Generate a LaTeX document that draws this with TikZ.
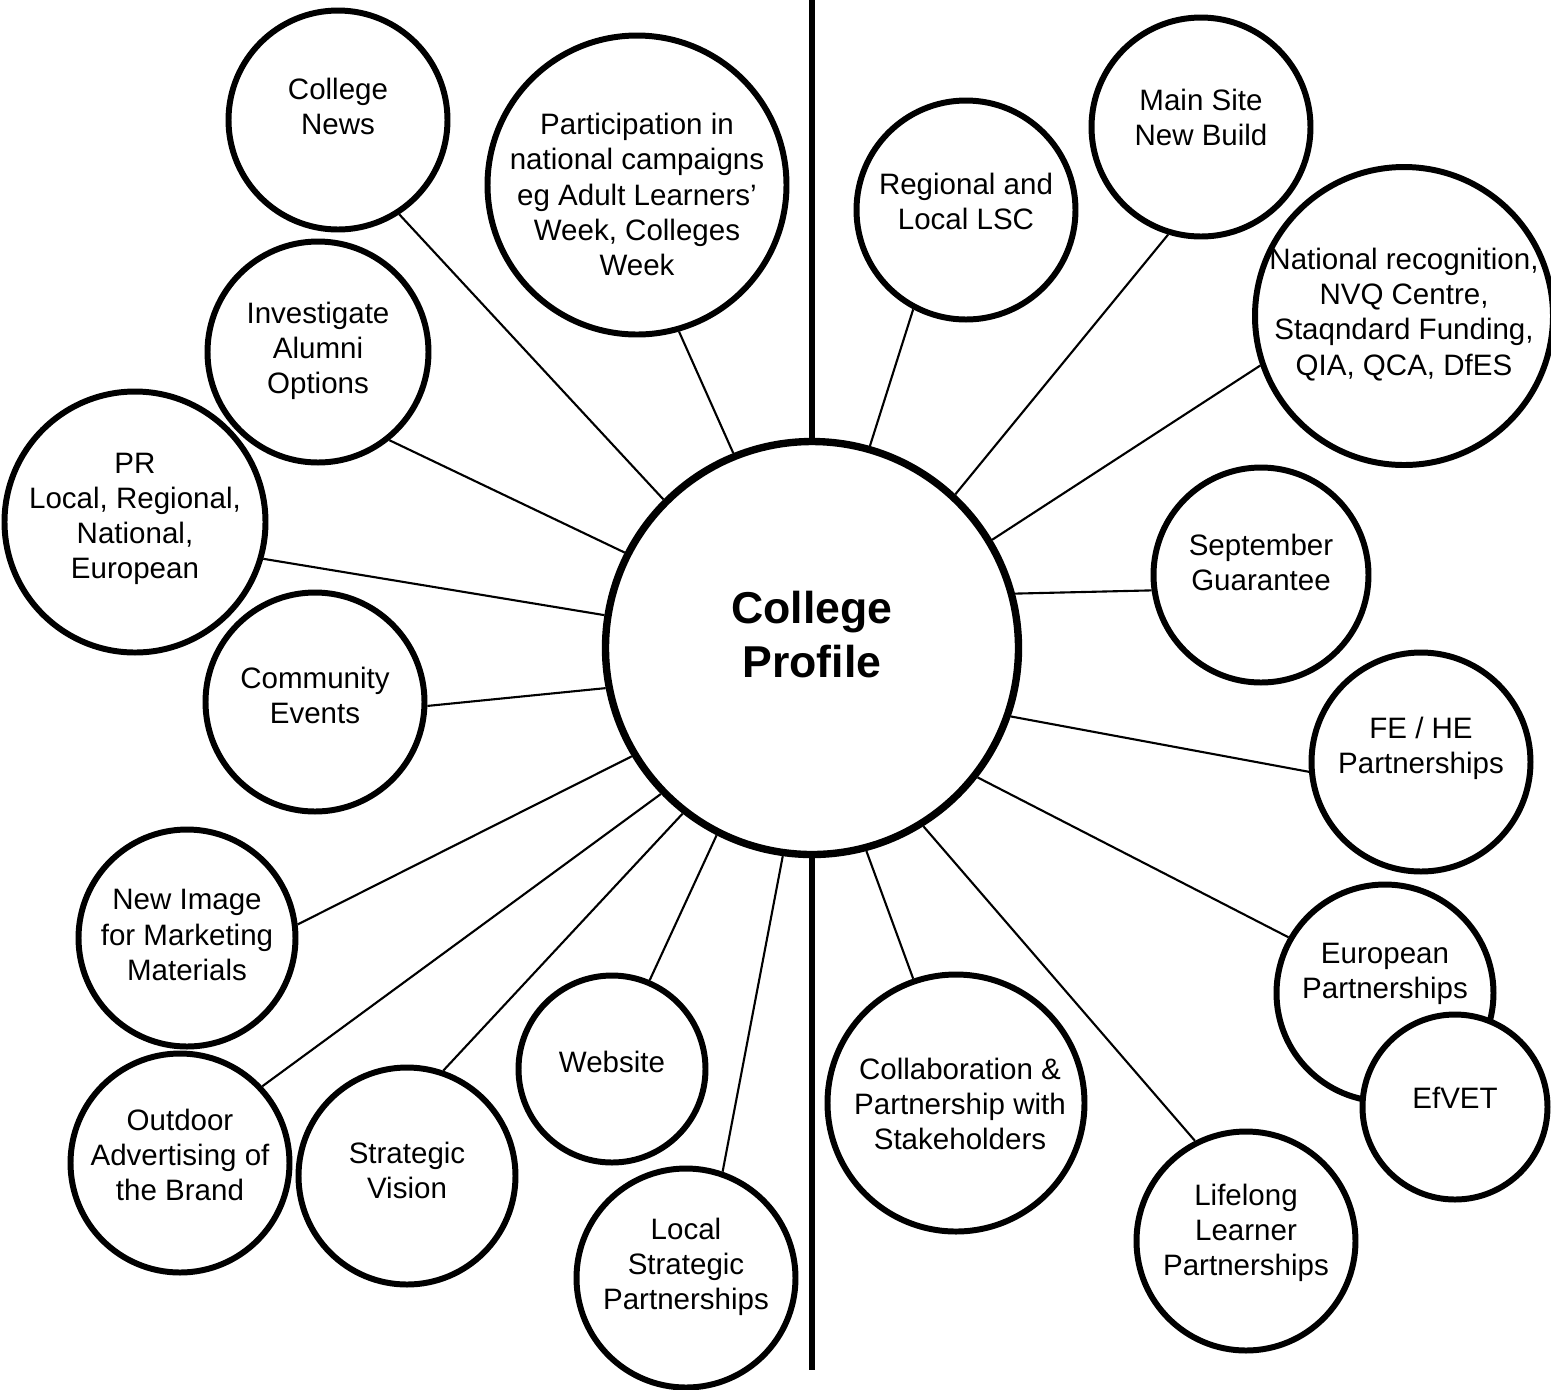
\documentclass[tikz,border=0pt]{standalone}
\usepackage{fontspec}
\setmainfont{Liberation Sans}
\usepackage{tikz}
\usetikzlibrary{positioning}

\begin{document}
\begin{tikzpicture}[x=0.1mm,y=-0.1mm,
 bubble/.style={draw,circle,line width=1.7pt,fill=white,inner sep=0pt,minimum size=#1mm},
 hub/.style={draw,circle,line width=2.1pt,fill=white,inner sep=0pt,minimum size=41.3mm},
 caption/.style={align=center,inner sep=0pt,font=\fontsize{8.4}{10}\selectfont},
 title/.style={align=center,inner sep=0pt,font=\fontsize{12.7}{15.3}\selectfont\bfseries},
 spoke/.style={line width=0.6pt},
 divider/.style={line width=1.9pt}]
\useasboundingbox (0,0) rectangle (1551,1389);
\node[hub,label={[title,yshift=1.35mm]center:{College\\Profile}}] (core) at (812,648) {};
\coordinate (ceiling) at (812,0);
\coordinate (floor) at (812,1370);
\draw[divider] (ceiling)--(core.north);
\draw[divider] (core.south)--(floor);
\node[bubble=21.9,label={[caption,yshift=1.35mm]center:{College\\News}}] (news) at (338,120) {};
\node[bubble=29.9,label={[caption,yshift=-0.95mm]center:{Participation in\\national campaigns\\eg Adult Learners'\\Week, Colleges\\Week}}] (campaign) at (637,185) {};
\node[bubble=22.1,label={[caption,yshift=0.1mm]center:{Investigate\\Alumni\\Options}}] (alumni) at (318,352) {};
\node[bubble=26.1,label={[caption,yshift=0.3mm]center:{PR\\Local, Regional,\\National,\\European}}] (pr) at (135,522) {};
\node[bubble=21.9,label={[caption,yshift=0.65mm]center:{Community\\Events}}] (community) at (315,702) {};
\node[bubble=21.7,label={[caption,yshift=0.3mm]center:{New Image\\for Marketing\\Materials}}] (image) at (187,938) {};
\node[bubble=21.9,label={[caption,yshift=0.8mm]center:{Outdoor\\Advertising of\\the Brand}}] (outdoor) at (180,1163) {};
\node[bubble=21.7,label={[caption,yshift=0.55mm]center:{Strategic\\Vision}}] (vision) at (407,1176) {};
\node[bubble=18.7,label={[caption,yshift=0.7mm]center:{Website}}] (website) at (612,1069) {};
\node[bubble=21.9,label={[caption,yshift=1.1mm]center:{Local\\Strategic\\Partnerships}}] (localsp) at (686,1278) {};
\node[bubble=21.9,label={[caption,yshift=0.85mm]center:{Regional and\\Local LSC}}] (lsc) at (966,210) {};
\node[bubble=21.9,label={[caption,yshift=0.95mm]center:{Main Site\\New Build}}] (newbuild) at (1201,127) {};
\node[bubble=29.8,label={[caption,yshift=0.15mm]center:{National recognition,\\NVQ Centre,\\Staqndard Funding,\\QIA, QCA, DfES}}] (national) at (1404,316) {};
\node[bubble=21.5,label={[caption,yshift=1.25mm]center:{September\\Guarantee}}] (guarantee) at (1261,575) {};
\node[bubble=21.9,label={[caption,yshift=1.35mm]center:{FE / HE\\Partnerships}}] (fehe) at (1421,762) {};
\node[bubble=21.7,label={[caption,yshift=1.95mm]center:{European\\Partnerships}}] (european) at (1385,993) {};
\node[bubble=18.5,label={[caption,yshift=0.9mm]center:{EfVET}}] (efvet) at (1455,1107) {};
\node[bubble=25.7,label={[caption,xshift=0.4mm,yshift=-0.1mm]center:{Collaboration \&\\Partnership with\\Stakeholders}}] (collab) at (956,1103) {};
\node[bubble=21.9,label={[caption,yshift=0.85mm]center:{Lifelong\\Learner\\Partnerships}}] (lifelong) at (1246,1241) {};
\draw[spoke] (core.135)--(news.-57);
\draw[spoke] (core.112)--(campaign.-74);
\draw[spoke] (core.153)--(alumni.-51);
\draw[spoke] (core.171)--(pr.-16.5);
\draw[spoke] (core.191)--(community.-2);
\draw[spoke] (core.211)--(image.7.6);
\draw[spoke] (core.224)--(outdoor.43);
\draw[spoke] (core.232)--(vision.71);
\draw[spoke] (core.243)--(website.67);
\draw[spoke] (core.262)--(localsp.71);
\draw[spoke] (core.285)--(collab.109);
\draw[spoke] (core.302)--(lifelong.117.5);
\draw[spoke] (core.322)--(european.150);
\draw[spoke] (core.341.5)--(fehe.185.6);
\draw[spoke] (core.15.5)--(guarantee.188);
\draw[spoke] (core.31.7)--(national.199);
\draw[spoke] (core.47)--(newbuild.253.6);
\draw[spoke] (core.74)--(lsc.242);
\end{tikzpicture}
\end{document}
